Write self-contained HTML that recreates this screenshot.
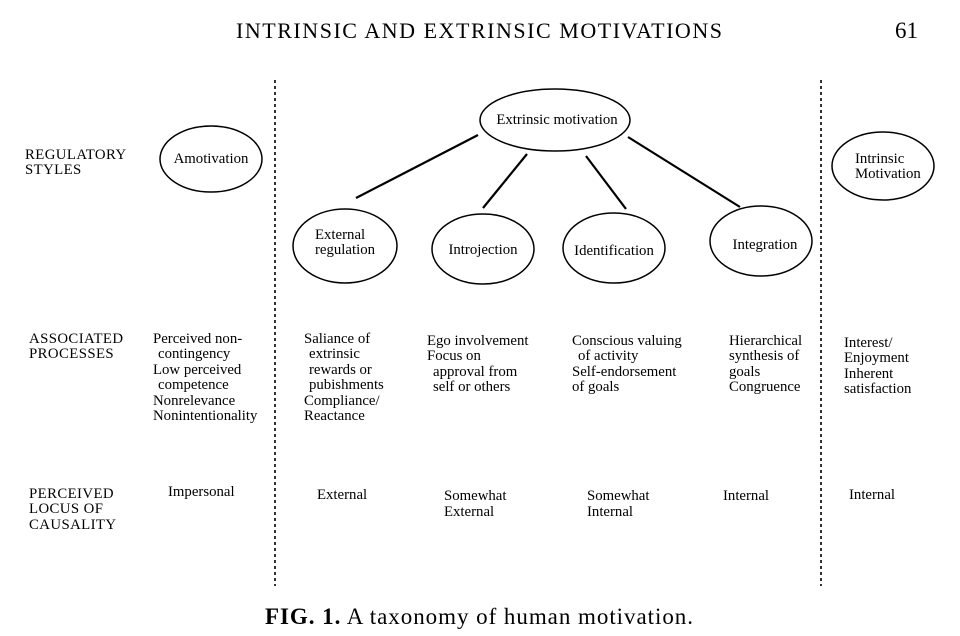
<!DOCTYPE html>
<html><head><meta charset="utf-8"><style>
html,body{margin:0;padding:0;background:#fff;}
svg{display:block;}
text{font-family:"Liberation Serif",serif;fill:#000;}
.t{font-size:14.8px;}
.l{letter-spacing:0.4px;}
</style></head><body>
<svg width="960" height="636" viewBox="0 0 960 636" xmlns="http://www.w3.org/2000/svg">
<text x="236" y="38" textLength="486" lengthAdjust="spacing" style="font-size:22px">INTRINSIC AND EXTRINSIC MOTIVATIONS</text>
<text x="918" y="38" text-anchor="end" style="font-size:23px">61</text>

<g stroke="#000" stroke-width="1.6" stroke-dasharray="3,3" fill="none">
<line x1="275" y1="80" x2="275" y2="586"/>
<line x1="821" y1="80" x2="821" y2="586"/>
</g>
<g stroke="#000" stroke-width="1.5" fill="none">
<ellipse cx="211" cy="159" rx="51" ry="33"/>
<ellipse cx="555" cy="120" rx="75" ry="31"/>
<ellipse cx="345" cy="246" rx="52" ry="37"/>
<ellipse cx="483" cy="249" rx="51" ry="35"/>
<ellipse cx="614" cy="248" rx="51" ry="35"/>
<ellipse cx="761" cy="241" rx="51" ry="35"/>
<ellipse cx="883" cy="166" rx="51" ry="34"/>
</g>
<g stroke="#000" stroke-width="2.2">
<line x1="356" y1="198" x2="478" y2="135"/>
<line x1="527" y1="154" x2="483" y2="208"/>
<line x1="586" y1="156" x2="626" y2="209"/>
<line x1="628" y1="137" x2="740" y2="207"/>
</g>
<g class="t">
<text x="211" y="163" text-anchor="middle">Amotivation</text>
<text x="557" y="124" text-anchor="middle">Extrinsic motivation</text>
<text x="315" y="239">External</text>
<text x="315" y="254">regulation</text>
<text x="483" y="254" text-anchor="middle">Introjection</text>
<text x="614" y="255" text-anchor="middle">Identification</text>
<text x="765" y="249" text-anchor="middle">Integration</text>
<text x="855" y="163">Intrinsic</text>
<text x="855" y="178">Motivation</text>

<text class="l" x="25" y="159">REGULATORY</text>
<text class="l" x="25" y="174">STYLES</text>

<text class="l" x="29" y="343">ASSOCIATED</text>
<text class="l" x="29" y="358">PROCESSES</text>

<text x="153" y="343">Perceived non-</text>
<text x="158" y="358">contingency</text>
<text x="153" y="374">Low perceived</text>
<text x="158" y="389">competence</text>
<text x="153" y="405">Nonrelevance</text>
<text x="153" y="420">Nonintentionality</text>

<text x="304" y="343">Saliance of</text>
<text x="309" y="358">extrinsic</text>
<text x="309" y="374">rewards or</text>
<text x="309" y="389">pubishments</text>
<text x="304" y="405">Compliance/</text>
<text x="304" y="420">Reactance</text>

<text x="427" y="345">Ego involvement</text>
<text x="427" y="360">Focus on</text>
<text x="433" y="376">approval from</text>
<text x="433" y="391">self or others</text>

<text x="572" y="345">Conscious valuing</text>
<text x="578" y="360">of activity</text>
<text x="572" y="376">Self-endorsement</text>
<text x="572" y="391">of goals</text>

<text x="729" y="345">Hierarchical</text>
<text x="729" y="360">synthesis of</text>
<text x="729" y="376">goals</text>
<text x="729" y="391">Congruence</text>

<text x="844" y="347">Interest/</text>
<text x="844" y="362">Enjoyment</text>
<text x="844" y="378">Inherent</text>
<text x="844" y="393">satisfaction</text>

<text class="l" x="29" y="498">PERCEIVED</text>
<text class="l" x="29" y="513">LOCUS OF</text>
<text class="l" x="29" y="529">CAUSALITY</text>

<text x="168" y="496">Impersonal</text>
<text x="317" y="499">External</text>
<text x="444" y="500">Somewhat</text>
<text x="444" y="516">External</text>
<text x="587" y="500">Somewhat</text>
<text x="587" y="516">Internal</text>
<text x="723" y="500">Internal</text>
<text x="849" y="499">Internal</text>
</g>
<text x="265" y="624" textLength="428" lengthAdjust="spacing" style="font-size:23px"><tspan font-weight="bold">FIG. 1.</tspan>   A taxonomy of human motivation.</text>
</svg>
</body></html>
